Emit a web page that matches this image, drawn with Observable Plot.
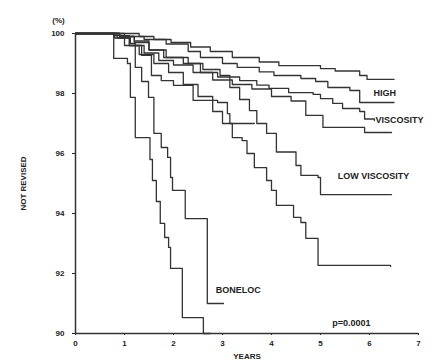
<!DOCTYPE html>
<html>
<head>
<meta charset="utf-8">
<script src="https://cdn.jsdelivr.net/npm/d3@7"></script>
<script src="https://cdn.jsdelivr.net/npm/@observablehq/plot@0.6"></script>
<style>
  html, body { margin: 0; padding: 0; background: #fff; }
  #chart svg { display: block; }
</style>
</head>
<body>
<div id="chart"></div>
<script>
// Kaplan-Meier survival (not revised, %) vs years — step curves
const highA_t = [0, 1.3, 1.6, 1.95, 2.35, 2.75, 3.2, 3.75, 4.15, 5.0, 5.3, 5.8, 5.95, 6.5];
const highA_s = [100, 99.9, 99.8, 99.7, 99.55, 99.4, 99.2, 99.05, 98.93, 98.83, 98.75, 98.6, 98.47, 98.47];

const highB_t = [0, 1.0, 1.4, 1.85, 2.3, 2.55, 3.0, 3.3, 3.75, 4.05, 4.6, 4.9, 5.15, 5.6, 5.8, 6.5];
const highB_s = [100, 99.9, 99.8, 99.65, 99.4, 99.2, 99.0, 98.87, 98.72, 98.6, 98.5, 98.4, 98.2, 98.1, 97.7, 97.7];

const highC_t = [0, 0.9, 1.2, 1.5, 1.85, 2.3, 2.55, 2.9, 3.35, 3.7, 3.95, 4.35, 4.85, 5.0, 5.25, 5.45, 5.8, 5.9, 6.1];
const highC_s = [100, 99.9, 99.75, 99.45, 99.2, 99.0, 98.7, 98.55, 98.43, 98.28, 98.17, 98.03, 97.97, 97.83, 97.67, 97.5, 97.4, 97.15, 97.1];

const highD_t = [0, 0.85, 1.1, 1.4, 1.7, 2.0, 2.4, 2.8, 3.2, 3.6, 4.0, 4.4, 4.7, 5.05, 5.9, 6.45];
const highD_s = [100, 99.85, 99.6, 99.35, 99.1, 98.95, 98.7, 98.45, 98.3, 98.15, 97.9, 97.75, 97.27, 96.87, 96.7, 96.7];

const midE_t = [0, 0.78, 1.1, 1.35, 1.55, 1.75, 2.0, 2.4, 2.9, 3.1, 3.15, 3.65];
const midE_s = [100, 99.93, 99.6, 99.27, 98.6, 98.43, 98.27, 97.77, 97.7, 97.33, 97.0, 97.0];

const lowA_t = [0, 0.9, 1.2, 1.5, 1.8, 2.2, 2.6, 2.95, 3.15, 3.35, 3.55, 3.7, 3.9, 4.1, 4.5, 4.6, 4.95, 5.0, 6.45];
const lowA_s = [100, 99.9, 99.7, 99.45, 99.2, 99.0, 98.8, 98.6, 98.2, 97.8, 97.43, 97.0, 96.67, 96.05, 95.6, 95.27, 95.2, 94.63, 94.63];

const lowB_t = [0, 0.8, 1.0, 1.3, 1.6, 1.9, 2.2, 2.5, 2.8, 3.0, 3.2, 3.4, 3.5, 3.65, 3.9, 4.0, 4.1, 4.45, 4.6, 4.7, 4.95, 6.43];
const lowB_s = [100, 99.85, 99.6, 99.3, 99.0, 98.7, 98.3, 97.9, 97.4, 97.0, 96.53, 96.43, 96.0, 95.53, 95.1, 94.77, 94.27, 93.87, 93.7, 93.17, 92.27, 92.23];

const boneA_t = [0, 0.78, 1.06, 1.12, 1.22, 1.52, 1.57, 1.65, 1.73, 1.82, 1.9, 1.94, 2.18, 2.61, 2.75];
const boneA_s = [100, 99.17, 99.0, 97.87, 96.53, 95.8, 95.1, 94.4, 93.67, 93.2, 92.87, 92.17, 90.53, 90.0, 90.0];

const boneB_t = [0, 0.9, 1.12, 1.22, 1.35, 1.49, 1.6, 1.75, 1.88, 1.94, 1.98, 2.24, 2.69, 3.02];
const boneB_s = [100, 99.85, 99.67, 98.87, 98.4, 97.87, 96.67, 96.2, 95.87, 95.2, 94.77, 93.83, 91.0, 91.0];

const yTicks = [90, 92, 94, 96, 98, 100];
const xTicks = [0, 1, 2, 3, 4, 5, 6, 7];

const labelText = ["HIGH", "VISCOSITY", "LOW VISCOSITY", "BONELOC", "p=0.0001"];
const labelX = [6.08, 6.12, 5.35, 2.86, 5.24];
const labelY = [98.0, 97.1, 95.23, 91.43, 90.33];

const curves = [
  ["highA", highA_t, highA_s], ["highB", highB_t, highB_s],
  ["highC", highC_t, highC_s], ["highD", highD_t, highD_s],
  ["midE", midE_t, midE_s], ["lowA", lowA_t, lowA_s],
  ["lowB", lowB_t, lowB_s], ["boneA", boneA_t, boneA_s],
  ["boneB", boneB_t, boneB_s]
];
const rows = curves.flatMap(([name, ts, ss]) => ts.map((t, i) => ({curve: name, t, s: ss[i]})));
const labels = labelText.map((text, i) => ({text, x: labelX[i], y: labelY[i]}));

const chart = Plot.plot({
  width: 436,
  height: 362,
  marginLeft: 75,
  marginRight: 18,
  marginTop: 33,
  marginBottom: 29,
  style: {fontFamily: "Liberation Sans, Arial, sans-serif", fontWeight: "bold", color: "#222", background: "#fff"},
  x: {domain: [0, 7]},
  y: {domain: [90, 100]},
  marks: [
    Plot.axisY({ticks: yTicks, tickSize: 3, tickPadding: 8, fontSize: 8, tickFormat: d => String(d),
      label: "NOT REVISED", labelAnchor: "center", labelOffset: 55, labelArrow: false}),
    Plot.axisX({ticks: xTicks, tickSize: 2, tickPadding: 5, fontSize: 8, tickFormat: d => String(d),
      label: "YEARS", labelAnchor: "center", labelOffset: 25, labelArrow: false}),
    Plot.ruleX([0], {stroke: "#333", strokeWidth: 1.5}),
    Plot.ruleY([90], {stroke: "#333", strokeWidth: 1.5}),
    Plot.text(["(%)"], {x: 0, y: 100, dx: -17, dy: -13, fontSize: 8, fontWeight: "bold", fill: "#222"}),
    Plot.line(rows, {x: "t", y: "s", z: "curve", curve: "step-after", stroke: "#333", strokeWidth: 1.3}),
    Plot.text(labels, {x: "x", y: "y", text: "text", textAnchor: "start", fontSize: 9, fontWeight: "bold", fill: "#222"})
  ]
});
document.getElementById("chart").appendChild(chart);
</script>
</body>
</html>
